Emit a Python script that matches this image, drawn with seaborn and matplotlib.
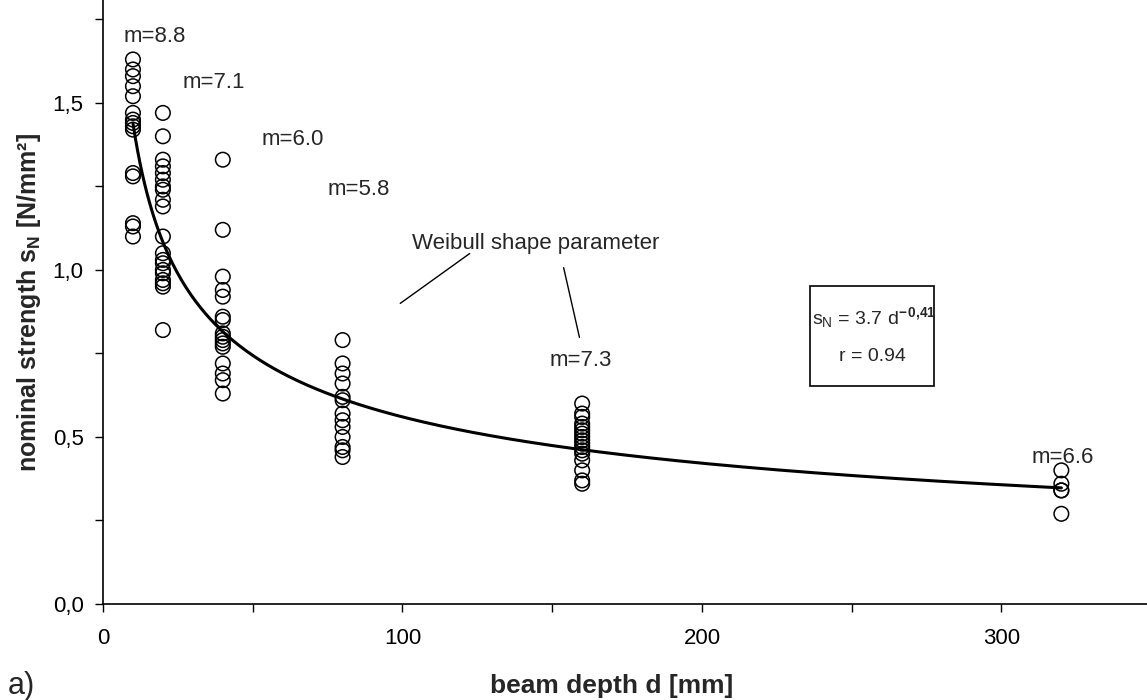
import numpy as np
import pandas as pd
import matplotlib
matplotlib.use("Agg")
import matplotlib.pyplot as plt
import seaborn as sns
from matplotlib.ticker import FuncFormatter, MultipleLocator
from matplotlib.patches import Rectangle

# ---- data ----
depths = [10, 20, 40, 80, 160, 320]
s_d10 = [1.63, 1.60, 1.58, 1.55, 1.52, 1.47, 1.45, 1.44, 1.43, 1.42, 1.29, 1.28, 1.14, 1.13, 1.10]
s_d20 = [1.47, 1.40, 1.33, 1.31, 1.29, 1.27, 1.25, 1.24, 1.21, 1.19, 1.10, 1.05, 1.03,
         1.02, 1.00, 0.99, 0.97, 0.96, 0.95, 0.82]
s_d40 = [1.33, 1.12, 0.98, 0.94, 0.92, 0.86, 0.85, 0.81, 0.80, 0.79, 0.78, 0.77, 0.72, 0.69, 0.67, 0.63]
s_d80 = [0.79, 0.72, 0.69, 0.66, 0.62, 0.61, 0.57, 0.55, 0.53, 0.50, 0.47, 0.46, 0.44]
s_d160 = [0.60, 0.57, 0.56, 0.54, 0.53, 0.52, 0.51, 0.50, 0.49, 0.48, 0.47, 0.46, 0.45, 0.43, 0.40, 0.37, 0.36]
s_d320 = [0.40, 0.36, 0.34, 0.34, 0.27]
weibull_m = ["8.8", "7.1", "6.0", "5.8", "7.3", "6.6"]
fit_a = 3.7
fit_b = -0.41
fit_r = "0.94"
x_ticks = [0, 100, 200, 300]
y_ticks = [0.0, 0.5, 1.0, 1.5]

groups = [s_d10, s_d20, s_d40, s_d80, s_d160, s_d320]
df = pd.DataFrame({
    "d": np.concatenate([[d] * len(g) for d, g in zip(depths, groups)]),
    "s": np.concatenate(groups),
})
fit_d = np.linspace(depths[0], depths[-1], 400)
fit_df = pd.DataFrame({"d": fit_d, "s": fit_a * fit_d ** fit_b})

sns.set_theme(style="ticks")
plt.rcParams["font.family"] = ["Liberation Sans", "DejaVu Sans"]
plt.rcParams["mathtext.fontset"] = "custom"
plt.rcParams["mathtext.rm"] = "Liberation Sans"
plt.rcParams["mathtext.it"] = "Liberation Sans"
plt.rcParams["mathtext.bf"] = "Liberation Sans:bold"

fig = plt.figure(figsize=(11.47, 7.0), dpi=100)
ax = fig.add_axes([103 / 1147, 96 / 700, 1 - 103 / 1147, 604 / 700])

sns.lineplot(data=fit_df, x="d", y="s", ax=ax, color="black", linewidth=2.2, zorder=3)
sns.scatterplot(data=df, x="d", y="s", ax=ax, s=110, facecolor="none",
                edgecolor="black", linewidth=1.1, zorder=4)

ax.set_xlim(0, 348.6)
ax.set_ylim(0, 1.808)
ax.set_xticks(x_ticks)
ax.set_yticks(y_ticks)
ax.xaxis.set_minor_locator(MultipleLocator(50))
ax.yaxis.set_minor_locator(MultipleLocator(0.25))
ax.yaxis.set_major_formatter(FuncFormatter(lambda v, p: f"{v:.1f}".replace(".", ",")))
ax.tick_params(axis="both", which="both", direction="out", length=6, width=1,
               color="black", labelsize=16, labelcolor="black")
ax.tick_params(axis="x", pad=11)
ax.tick_params(axis="y", pad=8)
for side in ["top", "right"]:
    ax.spines[side].set_visible(False)
for side in ["left", "bottom"]:
    ax.spines[side].set_color("black")
    ax.spines[side].set_linewidth(1.2)

ax.set_xlabel("beam depth d [mm]", fontsize=19, fontweight="bold")
ax.xaxis.set_label_coords((612 - 103) / 1044, -70 / 604)
ax.set_ylabel(r"nominal strength s$_{\mathbf{N}}$ [N/mm²]", fontsize=18,
              fontweight="bold")
ax.yaxis.set_label_coords(-60 / 1044, 0.5)
fig.text(8 / 1147, 1 - 686 / 700, "a)", fontsize=22, va="center", ha="left")

# Weibull shape parameter labels
m_pos = [(7, 1.70), (26.5, 1.56), (53, 1.39), (75, 1.24), (149, 0.73), (310, 0.44)]
for (mx, my), m in zip(m_pos, weibull_m):
    ax.text(mx, my, f"m={m}", fontsize=16, ha="left", va="center")

ax.text(144.5, 1.08, "Weibull shape parameter", fontsize=16, ha="center", va="center")
ax.annotate("", xy=(98.5, 0.895), xytext=(123.2, 1.054),
            arrowprops=dict(arrowstyle="-", color="black", lw=1))
ax.annotate("", xy=(159.3, 0.79), xytext=(153.6, 1.015),
            arrowprops=dict(arrowstyle="-", color="black", lw=1))

# fit box
ax.add_patch(Rectangle((236.1, 0.653), 41.4, 0.299, facecolor="white",
                       edgecolor="black", linewidth=1.2, zorder=5))
ax.text(257.5, 0.857, r"s$_\mathrm{N}$ = 3.7 d$^{\mathbf{-\,0{,}41}}$", fontsize=14,
        ha="center", va="center", zorder=6)
ax.text(256.8, 0.742, f"r = {fit_r}", fontsize=14, ha="center", va="center", zorder=6)

fig.savefig("out.png", dpi=100)
